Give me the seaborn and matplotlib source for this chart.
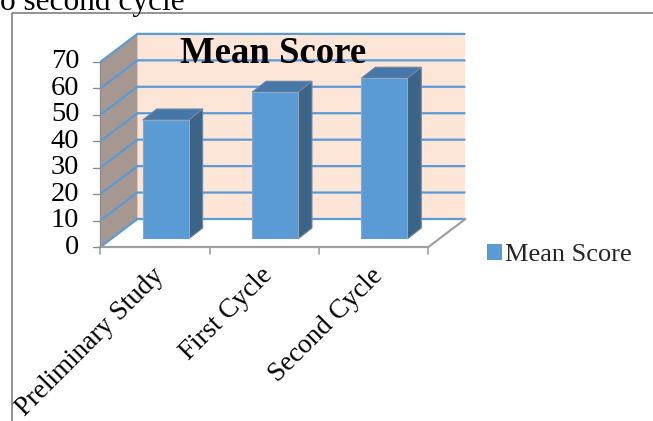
import matplotlib
matplotlib.use("Agg")
import matplotlib.pyplot as plt
import seaborn as sns
from matplotlib.patches import Polygon, Patch
from matplotlib.lines import Line2D

categories = ["Preliminary Study", "First Cycle", "Second Cycle"]
values = [45.0, 55.5, 60.8]
yticks = [0, 10, 20, 30, 40, 50, 60, 70]
title = "Mean Score"
series_name = "Mean Score"
top_text = "o second cycle"

sns.set_theme(style="white")
plt.rcParams["font.family"] = ["Liberation Serif", "DejaVu Serif"]

W, H = 653, 421
fig = plt.figure(figsize=(W / 100, H / 100), dpi=100)
fig.patch.set_facecolor("white")

# axes = the plane at the bars' front face
ax = fig.add_axes([111 / W, (H - 239) / H, 328 / W, 185.1 / H])
FRONT = "#5b9bd5"
sns.barplot(x=categories, y=values, color=FRONT, saturation=1, width=0.42,
            edgecolor="#8ea6c2", linewidth=0.8, ax=ax, zorder=5)
ax.set_xlim(-0.5, len(categories) - 0.5)
ax.set_ylim(0, yticks[-1])
ax.axis("off")

p0 = ax.transData.transform((0, 0))
p1 = ax.transData.transform((1, 1))
ppx, ppy = p1[0] - p0[0], p1[1] - p0[1]


def off(dxp, dyp):
    return dxp / ppx, dyp / ppy


fx, fy = off(-10.6, -8)   # front plane
bx, by = off(26.4, 20)    # back plane
dx, dy = off(14, 11)      # bar depth
xl, xr = -0.5, len(categories) - 0.5
ytop = yticks[-1]

# walls
ax.add_patch(Polygon([(xl + bx, by), (xr + bx, by), (xr + bx, ytop + by), (xl + bx, ytop + by)],
                     closed=True, facecolor="#fde5d7", edgecolor="none", zorder=1, clip_on=False))
ax.add_patch(Polygon([(xl + fx, fy), (xl + fx, ytop + fy), (xl + bx, ytop + by), (xl + bx, by)],
                     closed=True, facecolor="#a69890", edgecolor="none", zorder=1, clip_on=False))
GRID = "#5b9bd5"
for v in yticks:
    ax.plot([xl + fx, xl + bx, xr + bx], [v + fy, v + by, v + by], color=GRID, lw=1.6,
            zorder=2, clip_on=False, solid_capstyle="butt")
# left axis edge
ax.plot([xl + fx, xl + fx], [fy, ytop + fy], color="#8c8c8c", lw=0.9, zorder=2, clip_on=False)
# floor edges
EDGE = "#a0a0a0"
ax.plot([xl + fx, xr + fx, xr + bx], [fy, fy, by], color=EDGE, lw=1.6, zorder=2, clip_on=False)
# category ticks
tdy = off(0, -7)[1]
for b in range(len(categories) + 1):
    xb = xl + b
    ax.plot([xb + fx, xb + fx], [fy, fy + tdy], color=EDGE, lw=1.2, zorder=2, clip_on=False)
# y ticks + labels
tdx = off(-7, 0)[0]
lx = off(-21, 0)[0]
for v in yticks:
    ax.plot([xl + fx + tdx, xl + fx], [v + fy, v + fy], color="#8c8c8c", lw=1.0, zorder=2, clip_on=False)
    ax.text(xl + fx + lx, v + fy, str(v), ha="right", va="center", fontsize=20.5, color="black")

# 3D bars
for p in list(ax.patches):
    if not hasattr(p, "get_width") or p.get_zorder() != 5:
        continue
    x0 = p.get_x(); w = p.get_width(); h = p.get_height(); x1 = x0 + w
    ax.add_patch(Polygon([(x1, 0), (x1, h), (x1 + dx, h + dy), (x1 + dx, dy)], closed=True,
                         facecolor="#3b6487", edgecolor="#6f87a3", lw=0.8, zorder=4, clip_on=False))
    ax.add_patch(Polygon([(x0, h), (x1, h), (x1 + dx, h + dy), (x0 + dx, h + dy)], closed=True,
                         facecolor="#4677a6", edgecolor="#6f87a3", lw=0.8, zorder=4, clip_on=False))

# category labels
cdx, cdy = off(-4, -16)
for i, c in enumerate(categories):
    ax.text(i + fx + cdx, fy + cdy, c, rotation=45, ha="right", va="top",
            rotation_mode="anchor", fontsize=19.5, color="black")

# title
fig.text(273 / W, 1 - 63 / H, title, ha="center", va="baseline", fontsize=26.5,
         fontweight="bold", color="black")

# legend
handles = [Patch(facecolor=FRONT, edgecolor="none", label=series_name)]
fig.legend(handles=handles, loc="center left", bbox_to_anchor=(487 / W, 1 - 255 / H),
           frameon=False, fontsize=19, handlelength=0.55, handleheight=0.55,
           handletextpad=0.15, borderpad=0, borderaxespad=0)

# document frame and text above
fig.add_artist(Line2D([11.5 / W, 11.5 / W, 1.0], [0.0, 1 - 13 / H, 1 - 13 / H],
                      transform=fig.transFigure, color="#808080", lw=1.2))
fig.text(0.0, 1 - 10 / H, top_text, ha="left", va="baseline", fontsize=22.5, color="black")

fig.savefig("out.png", dpi=100)
